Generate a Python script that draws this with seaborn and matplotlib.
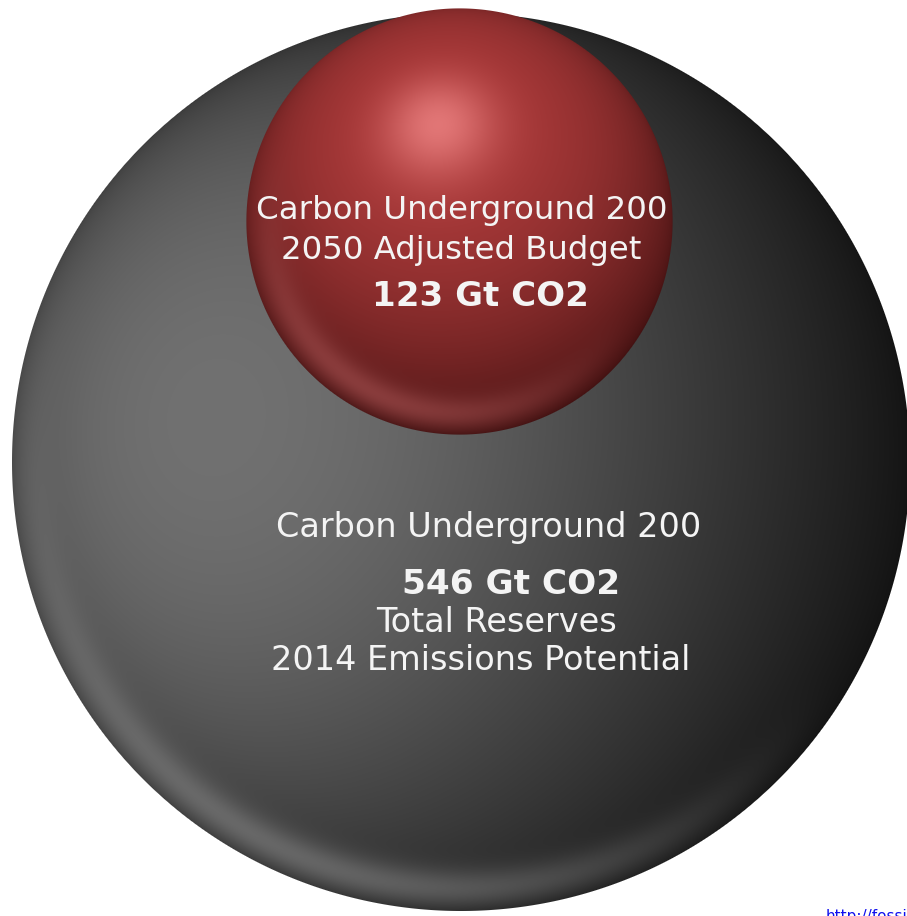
import numpy as np
import matplotlib
matplotlib.use("Agg")
import matplotlib.pyplot as plt
import seaborn as sns

# values shown in the two bubbles (Gt CO2)
bubble_names = ["Total Reserves", "2050 Adjusted Budget"]
bubble_values = [546, 123]

big_lines = ["Carbon Underground 200", "546 Gt CO2", "Total Reserves", "2014 Emissions Potential"]
small_lines = ["Carbon Underground 200", "2050 Adjusted Budget", "123 Gt CO2"]
source_text = "http://fossilfreeindexes.com"

W, H = 907, 916
MAX_R = 449  # pixel radius of the biggest bubble


def sphere_rgba(r, light, dark, base, spec_col, spec_pow, spec_amt,
                rim_dir, rim_col, rim_amt, rim_pos=0.95, rim_w=0.045, gamma=2.2):
    n = int(np.ceil(2 * r))
    px = (np.arange(n) + 0.5 - n / 2) / r
    u, v = np.meshgrid(px, px)
    d = np.sqrt(u ** 2 + v ** 2)
    z = np.sqrt(np.clip(1 - d ** 2, 0, 1))
    L = np.array(light, float)
    L /= np.linalg.norm(L)
    ndl = u * L[0] + v * L[1] + z * L[2]
    h = (0.5 + 0.5 * ndl) ** gamma
    dark, base = np.array(dark), np.array(base)
    rgb = dark + (base - dark) * h[..., None]
    # soft highlight, pulled off-centre toward the light
    spec = np.clip(ndl, 0, 1) ** spec_pow * spec_amt
    rgb = rgb + (np.array(spec_col) - rgb) * spec[..., None]
    # reflected light band near the lower-left edge
    rd = np.array(rim_dir, float)
    rd /= np.linalg.norm(rd)
    side = np.clip((u * rd[0] + v * rd[1]) / np.maximum(d, 1e-6), 0, 1) ** 1.5
    ring = np.exp(-((d - rim_pos) / rim_w) ** 2)
    rim = side * ring * rim_amt
    rgb = rgb + (np.array(rim_col) - rgb) * rim[..., None]
    alpha = np.clip((1 - d) * r + 0.5, 0, 1)
    return np.dstack([np.clip(rgb, 0, 1), alpha])


sns.set_theme(style="white")
plt.rcParams['font.family'] = ['DejaVu Sans']

fig = plt.figure(figsize=(W / 100, H / 100), dpi=100)
ax = fig.add_axes([0, 0, 1, 1])
ax.set_xlim(0, W)
ax.set_ylim(H, 0)
ax.axis('off')

radii = [MAX_R * np.sqrt(v / max(bubble_values)) for v in bubble_values]
centers = [(461, 462), (459, 222)]

grey = sphere_rgba(radii[0], light=(-0.55, -0.1, 0.83), dark=(0.06, 0.06, 0.06),
                   base=(0.41, 0.41, 0.41), spec_col=(0.52, 0.52, 0.52), spec_pow=5,
                   spec_amt=0.3, rim_dir=(-0.5, 0.85), rim_col=(0.48, 0.48, 0.48), rim_amt=0.7,
                   rim_pos=0.95, rim_w=0.045)
red = sphere_rgba(radii[1], light=(-0.1, -0.45, 0.88), dark=(0.17, 0.03, 0.03),
                  base=(0.68, 0.23, 0.23), spec_col=(0.97, 0.56, 0.56), spec_pow=30,
                  spec_amt=0.7, rim_dir=(-0.45, 0.9), rim_col=(0.68, 0.34, 0.34), rim_amt=0.55,
                  rim_pos=0.9, rim_w=0.08, gamma=1.6)

for img, r, (cx, cy) in zip([grey, red], radii, centers):
    ax.imshow(img, extent=(cx - r, cx + r, cy + r, cy - r), interpolation='bilinear', zorder=1)

txt = dict(color='#f4f4f4', ha='center', va='center', zorder=3)
ax.text(462, 210, small_lines[0], fontsize=23.3, **txt)
ax.text(461, 250, small_lines[1], fontsize=23.3, **txt)
ax.text(480, 297, small_lines[2], fontsize=24.5, fontweight='bold', **txt)

ax.text(489, 528, big_lines[0], fontsize=24.1, **txt)
ax.text(511, 585, big_lines[1], fontsize=24.7, fontweight='bold', **txt)
ax.text(496, 623, big_lines[2], fontsize=24.1, **txt)
ax.text(481, 660, big_lines[3], fontsize=24.1, **txt)

ax.text(826, 921, source_text, fontsize=11, color='#1010ee', ha='left', va='baseline')

fig.savefig("out.png", dpi=100, facecolor='white')
plt.close(fig)
